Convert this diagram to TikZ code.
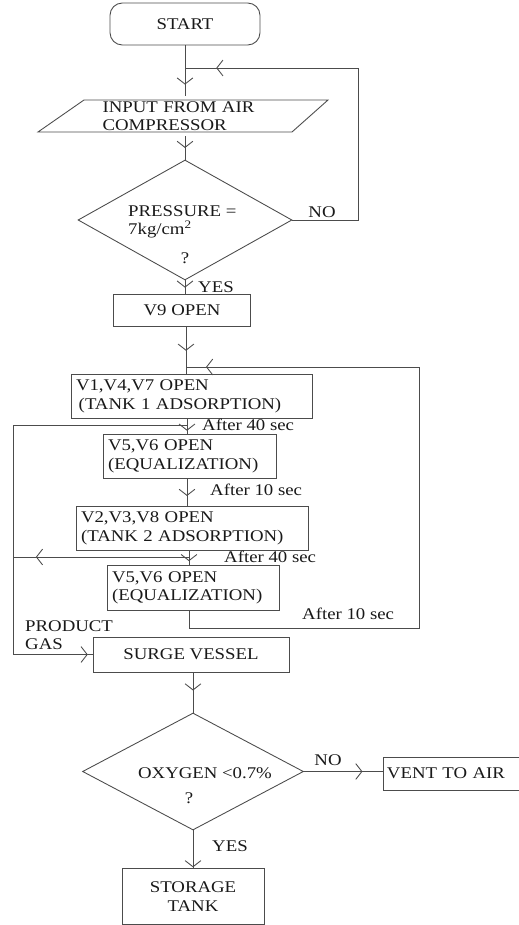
\documentclass[tikz,border=0pt]{standalone}
\usepackage{fontspec}
\setmainfont{Liberation Serif}[FakeStretch=1.15]
\usetikzlibrary{shapes.geometric,arrows.meta,decorations.markings}

\begin{document}
\begin{tikzpicture}[x=0.02cm, y=-0.02cm,
    every node/.style={font=\fontsize{9.3}{10.5}\selectfont, text=black!90},
    box/.style={draw=black!70, rectangle, line width=0.5pt},
    leftbox/.style={box, align=left, inner xsep=0.1cm},
    decision/.style={draw=black!70, diamond, line width=0.5pt, inner sep=0pt},
    conn/.style={draw=black!70, line width=0.5pt},
    arrowat/.style={postaction={decorate}, decoration={markings, mark=at position #1 with {\arrow{Straight Barb[length=3.5pt,width=9pt]}}}}]
    \useasboundingbox (0,0) rectangle (518,925);

    \node[box, rounded corners=7pt, minimum width=3cm, minimum height=0.84cm] (start) at (185,24) {START};
    \node[text width=3.3cm, align=left, minimum height=0.64cm, inner sep=3pt] (in) at (185,116) {INPUT FROM AIR\\COMPRESSOR};
    \draw[conn] (84,100) -- (328,100) -- (292,132) -- (38,132) -- cycle;
    \coordinate (loopA) at (185,68);
    \draw[conn] (start) -- (loopA);
    \draw[conn, arrowat=0.6] (loopA) -- (in);

    \node[decision, minimum width=4.28cm, minimum height=2.4cm] (press) at (185,220) {};
    \draw[conn, arrowat=0.5] (in) -- (press);
    \node[anchor=west, align=left] (presstxt) at (122,222) {PRESSURE =\\7kg/cm\textsuperscript{2}};
    \node (pressq) at (185,258) {?};
    \node (pressno) at (322,212) {NO};
    \draw[conn, arrowat=0.92] (press.east) -- (358,220) |- (loopA);
    \node[anchor=west] (pressyes) at (192,287) {YES};

    \node[box, minimum width=2.74cm, minimum height=0.64cm] (v9) at (182,310) {V9 OPEN};
    \draw[conn, arrowat=0.55] (press.south) -- (press.south |- v9.north);

    \coordinate (loopB) at (186,367);
    \node[leftbox, text width=4.62cm, minimum height=0.74cm] (v147) at (191.5,396.5) {V1,V4,V7 OPEN\\\,(TANK 1 ADSORPTION)};
    \draw[conn, arrowat=0.6] (v9.south -| loopB) -- (loopB);
    \draw[conn] (loopB) -- (loopB |- v147.north);

    \coordinate (br1) at (187,425);
    \node[leftbox, text width=3.26cm, minimum height=0.74cm] (eq1) at (189.5,456.5) {V5,V6 OPEN\\(EQUALIZATION)};
    \draw[conn] (v147.south -| br1) -- (br1);
    \draw[conn, arrowat=0.65] (br1) -- (br1 |- eq1.north);
    \node[anchor=west] (t40a) at (196,425) {After 40 sec};

    \node[leftbox, text width=4.44cm, minimum height=0.74cm] (v238) at (192,528.5) {V2,V3,V8 OPEN\\(TANK 2 ADSORPTION)};
    \draw[conn, arrowat=0.63] (eq1.south -| br1) -- (br1 |- v238.north);
    \node[anchor=west] (t10a) at (204,490) {After 10 sec};

    \coordinate (br2) at (189,557);
    \node[leftbox, text width=3.24cm, minimum height=0.72cm] (eq2) at (193,588) {V5,V6 OPEN\\(EQUALIZATION)};
    \draw[conn] (v238.south -| br2) -- (br2);
    \draw[conn, arrowat=0.5] (br2) -- (br2 |- eq2.north);
    \node[anchor=west] (t40b) at (218,557) {After 40 sec};
    \draw[conn, arrowat=0.973] (eq2.south -| br2) |- (419,628) |- (loopB);
    \node[anchor=west] (t10b) at (296,614) {After 10 sec};

    \node[box, minimum width=3.92cm, minimum height=0.7cm] (surge) at (191,654.5) {SURGE VESSEL};
    \draw[conn, arrowat=0.87] (br2) -- (13,557);
    \draw[conn, arrowat=0.99] (br1) -- (13,425) |- (surge.west);
    \node[anchor=west, align=left] (prod) at (19,635) {PRODUCT\\GAS};

    \node[decision, minimum width=4.42cm, minimum height=2.34cm] (o2) at (193,771.5) {};
    \draw[conn, arrowat=0.45] (surge.south -| o2) -- (o2);
    \node (o2txt) at (205,773) {OXYGEN {<}0.7\%};
    \node (o2q) at (189,798) {?};
    \node (o2no) at (328,760) {NO};
    \node[box, anchor=west, text width=2.8cm, align=left, inner xsep=2pt, minimum height=0.66cm] (vent) at (383,773.5) {VENT TO AIR};
    \draw[conn, arrowat=0.74] (o2.east) -- (o2.east -| vent.west);

    \node[box, minimum width=2.84cm, minimum height=1.12cm, align=center] (st) at (193,896.5) {STORAGE\\TANK};
    \draw[conn, arrowat=0.98] (o2) -- (st);
    \node[anchor=west] (o2yes) at (206,846) {YES};
\end{tikzpicture}
\end{document}
